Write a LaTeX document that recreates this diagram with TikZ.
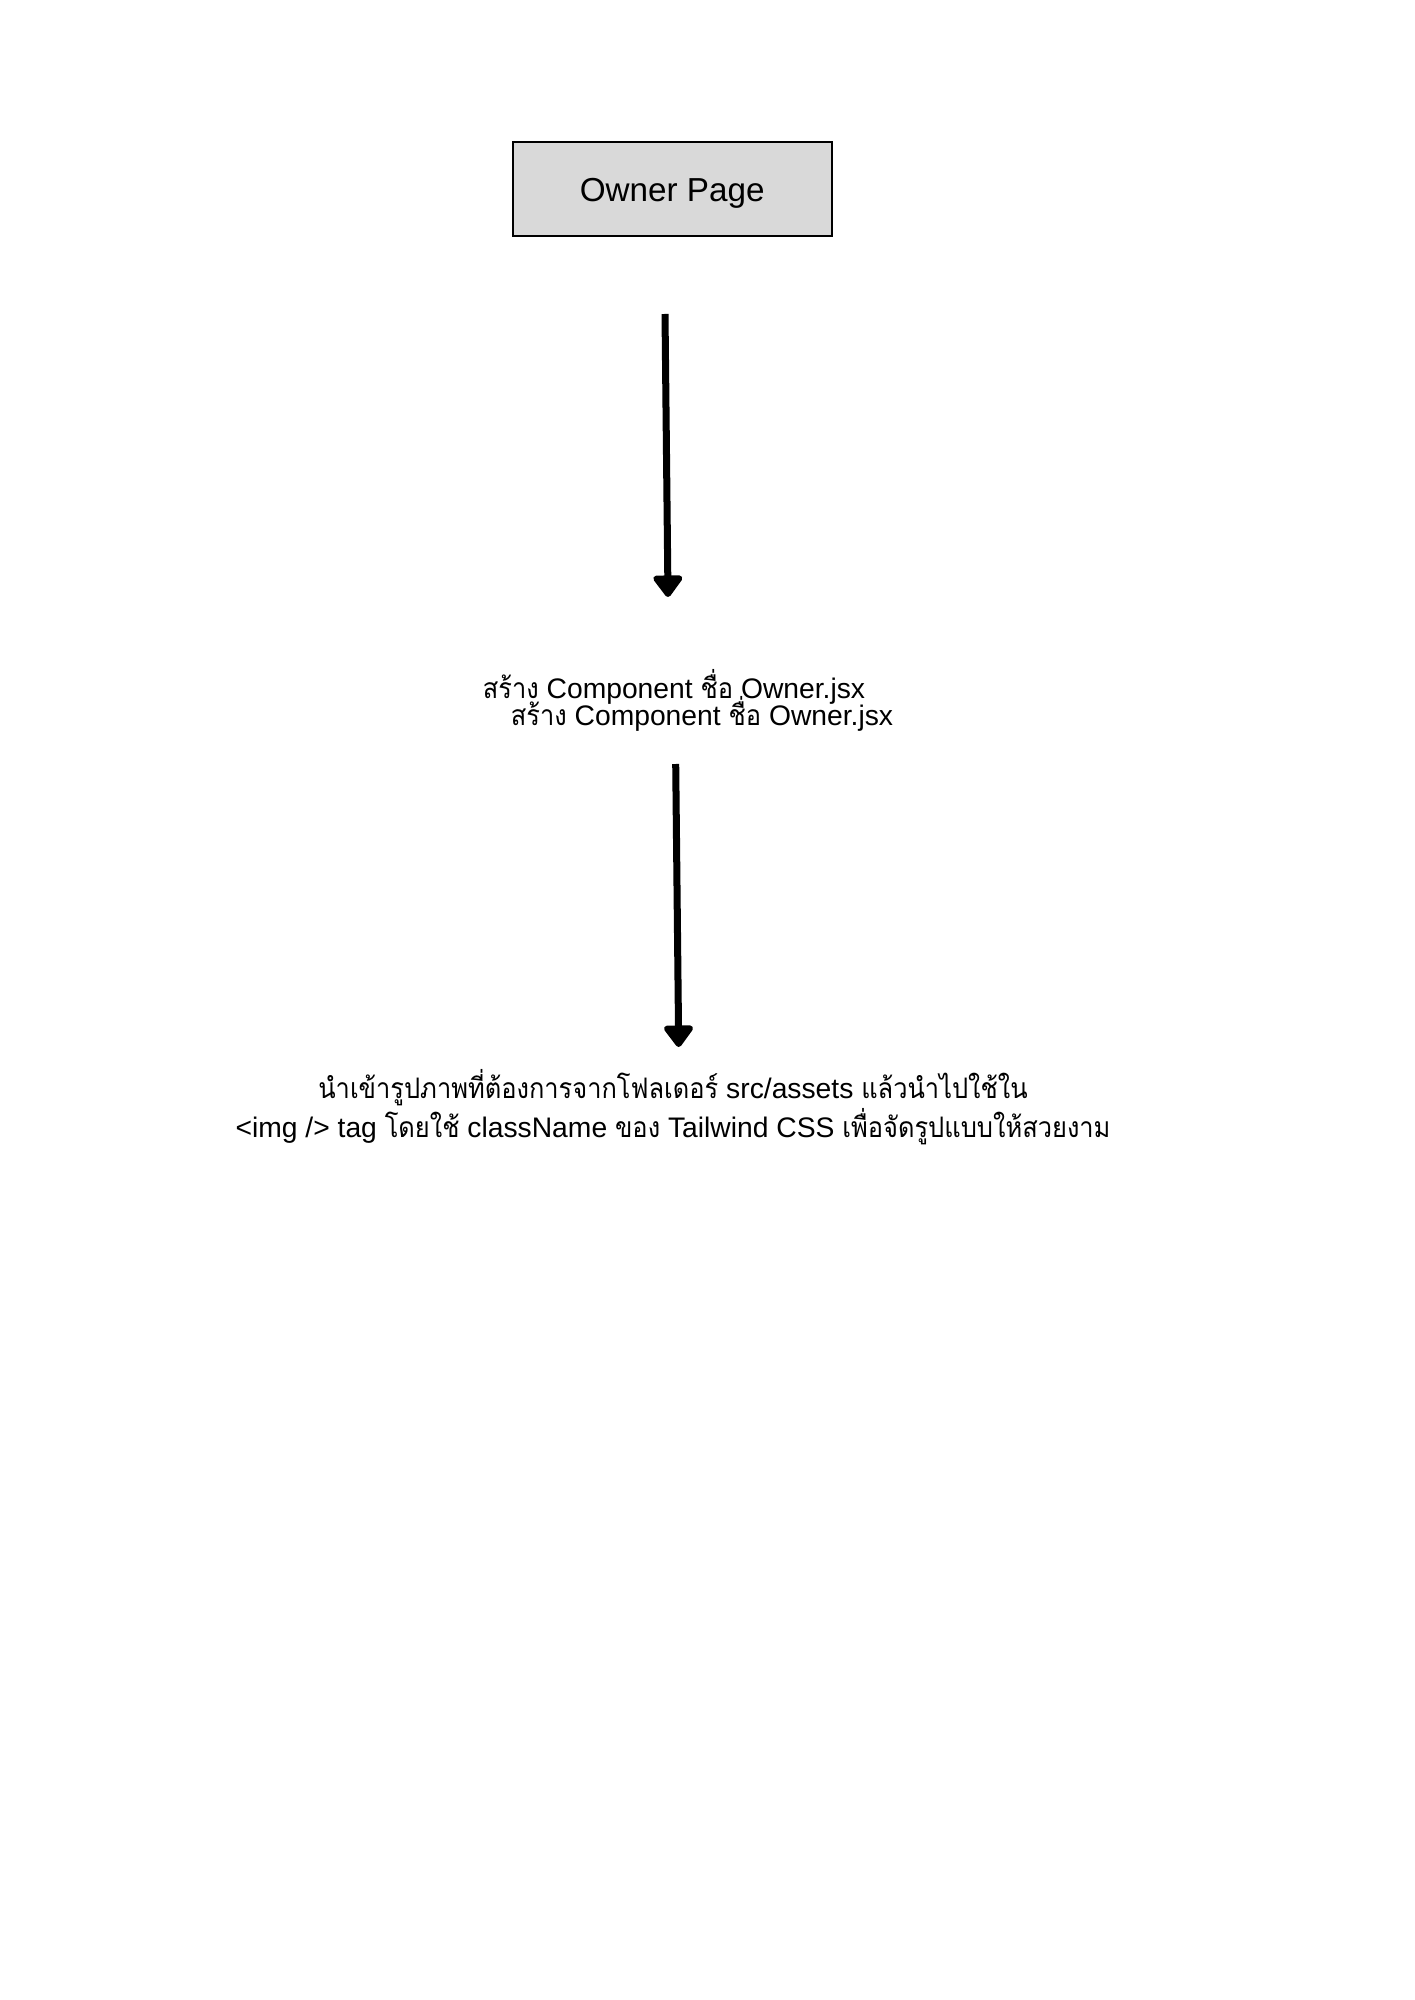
\documentclass[tikz,border=0pt]{standalone}
\usepackage{fontspec}
\setmainfont{Liberation Sans}
\newfontfamily\thaifont[Script=Thai, FakeStretch=0.9]{Loma}
\newcommand{\thx}[1]{{\thaifont #1}}
\usetikzlibrary{arrows.meta}
\definecolor{boxgray}{RGB}{217,217,217}
\tikzset{
  pagebox/.style={draw=black, line width=0.7pt, fill=boxgray, minimum width=319*0.421pt, minimum height=94*0.421pt, inner sep=0pt, font=\fontsize{14pt}{17pt}\selectfont},
  plaintext/.style={inner sep=0pt, font=\fontsize{11.9pt}{13pt}\selectfont},
  flow/.style={line width=2.95pt, -{Triangle[width=14pt,length=10pt,round]}}
}
\begin{document}
\begin{tikzpicture}[x=0.421pt,y=-0.421pt]
\useasboundingbox (0,0) rectangle (1414,2000);
\node[pagebox] (owner) at (672.2,189) {\raisebox{-1.8pt}[\height][\depth]{Owner Page}};
\node[plaintext, anchor=base] (t1a) at (674,698) {\thx{สร้าง} Component \thx{ชื่อ} Owner.jsx};
\node[plaintext, anchor=base] (t1b) at (702,725) {\thx{สร้าง} Component \thx{ชื่อ} Owner.jsx};
\node[plaintext, anchor=base, align=center, font=\fontsize{11.9pt}{15.2pt}\selectfont] (t2) at (673,1137) {\thx{นำเข้ารูปภาพที่ต้องการจากโฟลเดอร์} src/assets \thx{แล้วนำไปใช้ใน}\\ <img /> tag \thx{โดยใช้} className \thx{ของ} Tailwind CSS \thx{เพื่อจัดรูปแบบให้สวยงาม}};
\coordinate (a1s) at (665,314);
\coordinate (a1e) at (668,597);
\coordinate (a2s) at (675.7,764);
\coordinate (a2e) at (678.7,1047);
\draw[flow] (a1s) -- (a1e);
\draw[flow] (a2s) -- (a2e);
\end{tikzpicture}
\end{document}
